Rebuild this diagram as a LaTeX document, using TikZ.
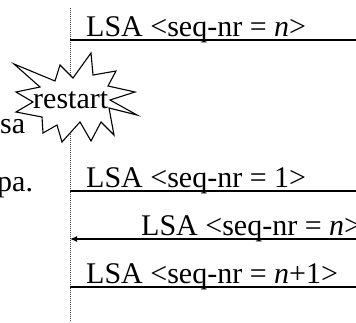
\documentclass[tikz,border=0pt]{standalone}
\usepackage{fontspec}
\setmainfont{Liberation Serif}
\usetikzlibrary{arrows.meta}
\tikzset{
  msg/.style={line width=1.1pt},
  lbl/.style={anchor=base west, inner sep=0pt, font=\fontsize{30}{36}\selectfont},
}
\begin{document}
\begin{tikzpicture}[x=1pt,y=-1pt]
            \useasboundingbox (0,0) rectangle (356,322);
            % lifeline
            \coordinate (lifetop) at (70,8);
            \coordinate (lifebot) at (70,321);
            \draw[dash pattern=on 1pt off 1pt, line width=1pt, black!75] (lifetop) -- (lifebot);
            % messages
            \coordinate (m1w) at (70,40);  \coordinate (m1e) at (356,40);
            \coordinate (m2w) at (70,191); \coordinate (m2e) at (356,191);
            \coordinate (m3w) at (70,239); \coordinate (m3e) at (356,239);
            \coordinate (m4w) at (70,287); \coordinate (m4e) at (356,287);
            \draw[msg] (m1w) -- (m1e);
            \draw[msg] (m2w) -- (m2e);
            \draw[msg,-{Latex[length=7pt,width=6pt]}] (m3e) -- (m3w);
            \draw[msg] (m4w) -- (m4e);
            \node[lbl] (seqn) at (86,36) {LSA <seq-nr = \textit{n}>};
            \node[lbl] (seqone) at (86,187) {LSA <seq-nr = 1>};
            \node[lbl] (seqnback) at (141,235) {LSA <seq-nr = \textit{n}>};
            \node[lbl] (seqnext) at (86,283) {LSA <seq-nr = \textit{n}+1>};
            % restart burst
            \draw[line width=1.1pt, fill=white] (14,64) -- (55,81) -- (60,65) -- (73,78) -- (91,53)
              -- (93,75) -- (116,71) -- (108,86) -- (135,92) -- (110,100) -- (137,115)
              -- (109,108) -- (114,135) -- (101,122) -- (91,141) -- (80,122) -- (62,142)
              -- (57,125) -- (43,133) -- (42,117) -- (16,112) -- (33,102) -- (16,92)
              -- (40,87) -- cycle;
            \node[lbl] (restart) at (33,108) {restart};
            % cut-off words on the left
            \node[lbl] (sa) at (0,133) {sa};
            \node[lbl] (pa) at (-3,191) {pa.};
        \end{tikzpicture}
\end{document}
